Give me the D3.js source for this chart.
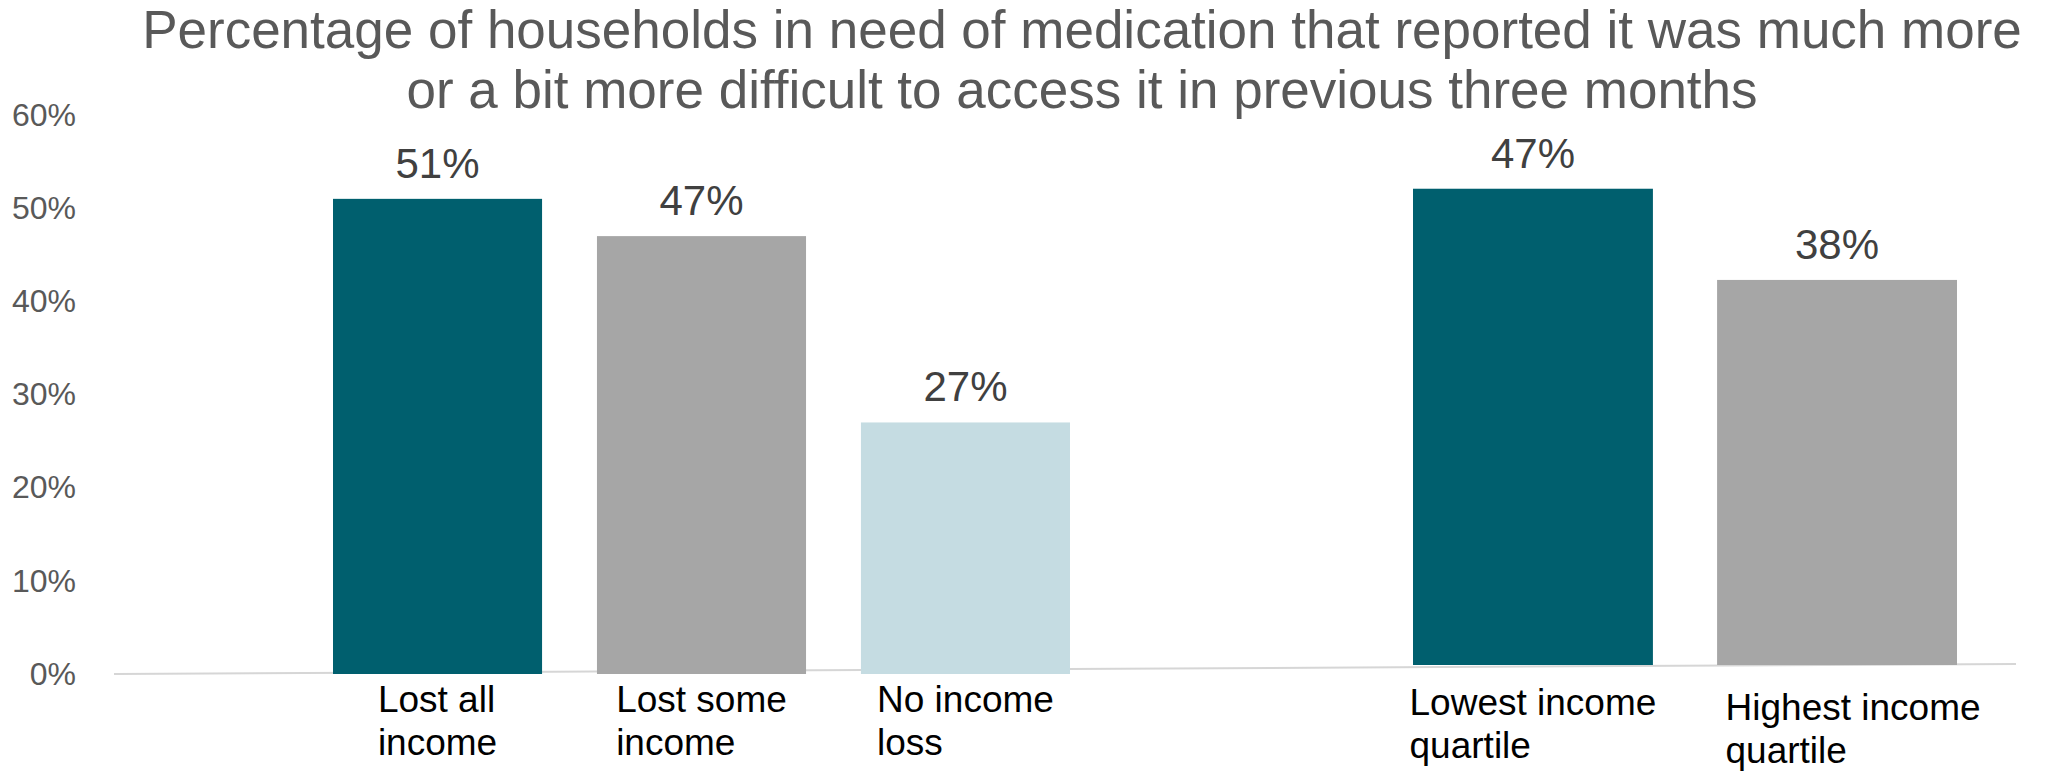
<!DOCTYPE html>
<html>
<head>
<meta charset="utf-8">
<script src="https://cdn.jsdelivr.net/npm/d3@7"></script>
<style>
  html, body { margin: 0; padding: 0; background: #ffffff; }
  svg { display: block; font-family: "Liberation Sans", Arial, sans-serif; }
</style>
</head>
<body>
<svg id="chart" width="2048" height="773"></svg>
<script>
// Income-change groups (left panel)
const incomeCategories = [["Lost all", "income"], ["Lost some", "income"], ["No income", "loss"]];
const incomeValues = [51, 47, 27];
const incomeColors = ["#005f6e", "#a6a6a6", "#c5dce2"];

// Income quartile groups (right panel)
const quartileCategories = [["Lowest income", "quartile"], ["Highest income", "quartile"]];
const quartileValues = [47, 38];
const quartileColors = ["#005f6e", "#a6a6a6"];

const yTicks = [0, 10, 20, 30, 40, 50, 60];
const titleLines = [
  "Percentage of households in need of medication that reported it was much more",
  "or a bit more difficult to access it in previous three months"
];

const svg = d3.select("#chart");

// Title
svg.append("g").selectAll("text")
  .data(titleLines)
  .join("text")
  .attr("x", 1082)
  .attr("y", (d, i) => 48 + i * 60)
  .attr("text-anchor", "middle")
  .attr("fill", "#595959")
  .style("font-size", "53px")
  .text(d => d);

// Scales
const yLeft = d3.scaleLinear().domain([0, 60]).range([674, 115]);
const yRight = d3.scaleLinear().domain([0, 60]).range([665, 57]);

const xLeft = d3.scaleBand()
  .domain(incomeCategories.map(d => d.join(" ")))
  .range([333, 1070])
  .paddingInner(0.208)
  .paddingOuter(0);

const xRight = d3.scaleBand()
  .domain(quartileCategories.map(d => d.join(" ")))
  .range([1413, 1957])
  .paddingInner(0.211)
  .paddingOuter(0);

// Y axis tick labels
const yAxis = d3.axisLeft(yLeft)
  .tickValues(yTicks)
  .tickFormat(d => d + "%")
  .tickSize(0)
  .tickPadding(0);
const gy = svg.append("g").attr("transform", "translate(76,0)").call(yAxis);
gy.select(".domain").remove();
gy.selectAll("text")
  .attr("fill", "#595959")
  .style("font-size", "32px")
  .style("font-family", "'Liberation Sans', Arial, sans-serif");

// Baseline
svg.append("line")
  .attr("x1", 114).attr("y1", yLeft(0))
  .attr("x2", 2016).attr("y2", yRight(0) - 1)
  .attr("stroke", "#d6d6d6")
  .attr("stroke-width", 2);

function drawGroup(categories, values, colors, x, y, labelBaselines, labelShift) {
  const data = categories.map((c, i) => ({ key: c.join(" "), lines: c, value: values[i], color: colors[i], i }));
  const g = svg.append("g");

  g.selectAll("rect")
    .data(data)
    .join("rect")
    .attr("x", d => x(d.key))
    .attr("y", d => y(d.value))
    .attr("width", x.bandwidth())
    .attr("height", d => y(0) - y(d.value))
    .attr("fill", d => d.color);

  g.selectAll("text.value")
    .data(data)
    .join("text")
    .attr("class", "value")
    .attr("x", d => x(d.key) + x.bandwidth() / 2)
    .attr("y", d => y(d.value) - 21)
    .attr("text-anchor", "middle")
    .attr("fill", "#404040")
    .style("font-size", "42px")
    .text(d => d.value + "%");

  // Two-line category labels, left-aligned as a block centred under each bar
  const labels = g.selectAll("text.cat")
    .data(data)
    .join("text")
    .attr("class", "cat")
    .attr("fill", "#000000")
    .style("font-size", "37px");
  labels.each(function(d) {
    const t = d3.select(this);
    d.lines.forEach((line, j) => {
      t.append("tspan")
        .attr("y", labelBaselines[d.i] + j * 43)
        .text(line);
    });
    const widths = [];
    t.selectAll("tspan").each(function() { widths.push(this.getComputedTextLength()); });
    const left = x(d.key) + x.bandwidth() / 2 - d3.max(widths) / 2 + labelShift[d.i];
    t.selectAll("tspan").attr("x", left);
  });
}

drawGroup(incomeCategories, incomeValues, incomeColors, xLeft, yLeft, [712, 712, 712], [0, 0, 0]);
drawGroup(quartileCategories, quartileValues, quartileColors, xRight, yRight, [715, 720], [0, 16]);
</script>
</body>
</html>
